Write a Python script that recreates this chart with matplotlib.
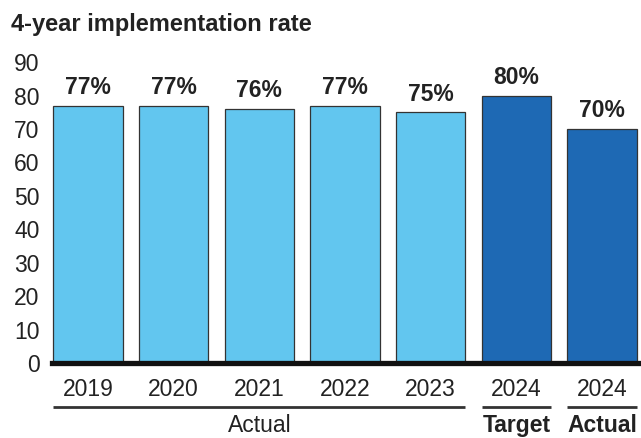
import matplotlib.pyplot as plt
import matplotlib.transforms as mtransforms

plt.rcParams['font.family'] = ['Liberation Sans', 'DejaVu Sans']

years = ["2019", "2020", "2021", "2022", "2023", "2024", "2024"]
rates = [77, 77, 76, 77, 75, 80, 70]
labels = ["77%", "77%", "76%", "77%", "75%", "80%", "70%"]
colors = ["#62C6EF"] * 5 + ["#1E69B4", "#1E69B4"]
# groups: (label, first bar index, last bar index, bold)
groups = [("Actual", 0, 4, False), ("Target", 5, 5, True), ("Actual", 6, 6, True)]

fig = plt.figure(figsize=(6.41, 4.38), dpi=100)
ax = fig.add_axes([0.081, 0.171, 0.917, 0.687])

x = list(range(len(rates)))
ax.bar(x, rates, width=0.81, color=colors, edgecolor="#333333", linewidth=0.9, zorder=2)

for xi, v, lab in zip(x, rates, labels):
    ax.text(xi, v + 2.0, lab, ha="center", va="bottom", fontsize=16.5,
            fontweight="bold", color="#222222")

ax.set_xlim(-0.42, 6.44)
ax.set_ylim(0, 90)
ax.set_yticks(range(0, 91, 10))
ax.tick_params(axis="y", length=0, labelsize=16.5, labelcolor="#222222", pad=9)
ax.set_xticks(x)
ax.set_xticklabels(years)
ax.tick_params(axis="x", length=0, labelsize=16.5, labelcolor="#222222", pad=11)

for s in ["top", "right", "left"]:
    ax.spines[s].set_visible(False)
ax.spines["bottom"].set_linewidth(3.8)
ax.spines["bottom"].set_color("#111111")
ax.spines["bottom"].set_zorder(3)

trans = mtransforms.blended_transform_factory(ax.transData, ax.transAxes)
for name, i0, i1, bold in groups:
    ax.plot([i0 - 0.405, i1 + 0.405], [-0.145, -0.145], transform=trans,
            color="#333333", linewidth=2.0, clip_on=False, solid_capstyle="butt")
    ax.text((i0 + i1) / 2, -0.168, name, transform=trans, ha="center", va="top",
            fontsize=16.5, fontweight="bold" if bold else "normal", color="#222222")

fig.text(0.017, 0.943, "4-year implementation rate", fontsize=17, fontweight="bold",
         color="#222222", ha="left", va="center")

fig.savefig("out.png", dpi=100)
